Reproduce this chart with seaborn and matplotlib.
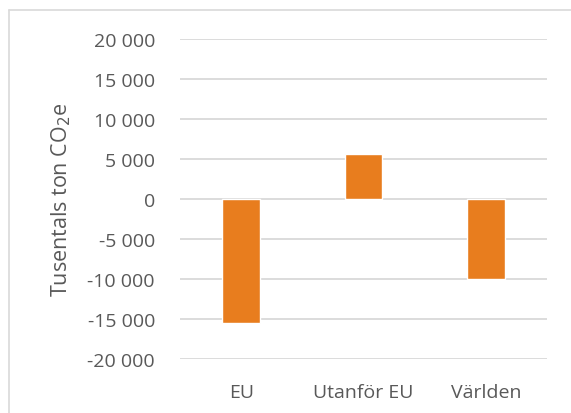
import matplotlib
matplotlib.use("Agg")
import matplotlib.pyplot as plt
from matplotlib.lines import Line2D
from matplotlib.ticker import FuncFormatter, MultipleLocator
import pandas as pd
import seaborn as sns

# data
regions = ["EU", "Utanför EU", "Världen"]
emissions = [-15540, 5620, -9960]
y_ticks_step = 5000
y_limits = (-20000, 20000)

BAR_COLOR = "#E87D1E"
GRID_COLOR = "#D9D9D9"
TEXT_COLOR = "#595959"

sns.set_theme(style="white")
plt.rcParams["font.family"] = ["Open Sans", "DejaVu Sans"]

df = pd.DataFrame({"region": regions, "value": emissions})

fig = plt.figure(figsize=(5.71, 4.14), dpi=100)
ax = fig.add_axes([180 / 571, 54 / 414, 367 / 571, 320 / 414])

sns.barplot(data=df, x="region", y="value", color=BAR_COLOR,
            saturation=1, width=0.31, ax=ax, zorder=3)

ax.set_ylim(*y_limits)
ax.yaxis.set_major_locator(MultipleLocator(y_ticks_step))
ax.yaxis.set_major_formatter(
    FuncFormatter(lambda v, _: f"{v:,.0f}".replace(",", " ")))
ax.grid(axis="y", color=GRID_COLOR, linewidth=1.3, zorder=0)
ax.set_axisbelow(True)
for s in ax.spines.values():
    s.set_visible(False)
ax.tick_params(axis="both", length=0, labelsize=14, colors=TEXT_COLOR)
ax.tick_params(axis="y", pad=18)
ax.tick_params(axis="x", pad=17)
ax.set_xlabel("")
ax.set_ylabel("Tusentals ton CO$_2$e", fontsize=15.5, color=TEXT_COLOR)
ax.yaxis.set_label_coords(-0.292, 0.5)

# chart frame, partly cropped in the reference
fig.add_artist(Line2D([8.5 / 571, 1], [1 - 10.5 / 414] * 2,
                      transform=fig.transFigure, color=GRID_COLOR, lw=1.2))
fig.add_artist(Line2D([8.5 / 571] * 2, [0, 1 - 10.5 / 414],
                      transform=fig.transFigure, color=GRID_COLOR, lw=1.2))

fig.savefig("out.png", dpi=100)
plt.close(fig)
